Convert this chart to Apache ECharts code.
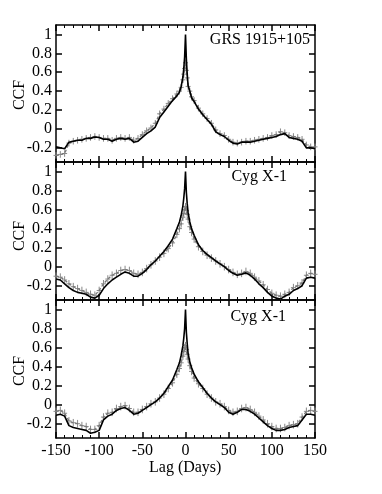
<!DOCTYPE html>
<html>
<head>
<meta charset="utf-8">
<script src="https://cdn.jsdelivr.net/npm/echarts@6/dist/echarts.min.js"></script>
<style>
  html, body { margin: 0; padding: 0; background: #fff; }
  #chart { width: 382px; height: 494px; }
</style>
</head>
<body>
<div id="chart"></div>
<script>
// lags (days)
var lags = [-150,-145,-140,-135,-130,-125,-120,-115,-110,-105,-100,-95,-90,-85,-80,-75,-70,-65,-60,-55,-50,-45,-40,-35,-30,-25,-20,-15,-10,-7,-5,-3,-2,-1,0,1,2,3,5,7,10,15,20,25,30,35,40,45,50,55,60,65,70,75,80,85,90,95,100,105,110,115,120,125,130,135,140,145,150];

// GRS 1915+105
var grsSolid = [-0.19,-0.20,-0.21,-0.14,-0.13,-0.12,-0.12,-0.10,-0.10,-0.085,-0.09,-0.11,-0.11,-0.13,-0.11,-0.10,-0.11,-0.10,-0.14,-0.13,-0.09,-0.05,-0.02,0.02,0.12,0.18,0.24,0.30,0.35,0.39,0.45,0.55,0.64,0.76,1.0,0.74,0.58,0.46,0.40,0.33,0.29,0.21,0.15,0.10,0.05,-0.03,-0.06,-0.08,-0.12,-0.15,-0.16,-0.14,-0.14,-0.14,-0.13,-0.12,-0.11,-0.10,-0.09,-0.08,-0.06,-0.05,-0.09,-0.10,-0.11,-0.13,-0.20,-0.20,-0.21];
var grsDash = [-0.28,-0.27,-0.26,-0.15,-0.13,-0.12,-0.11,-0.10,-0.09,-0.08,-0.09,-0.10,-0.10,-0.12,-0.10,-0.09,-0.10,-0.09,-0.12,-0.10,-0.06,-0.02,0.01,0.06,0.16,0.21,0.27,0.32,0.37,0.40,0.44,0.52,0.58,0.64,0.70,0.62,0.54,0.45,0.40,0.34,0.30,0.22,0.16,0.11,0.06,-0.01,-0.05,-0.07,-0.11,-0.14,-0.15,-0.14,-0.13,-0.13,-0.12,-0.11,-0.10,-0.09,-0.07,-0.06,-0.03,-0.04,-0.07,-0.08,-0.09,-0.11,-0.17,-0.19,-0.19];

// Cyg X-1 (middle)
var cygASolid = [-0.13,-0.14,-0.18,-0.22,-0.25,-0.27,-0.28,-0.29,-0.32,-0.33,-0.30,-0.23,-0.18,-0.14,-0.11,-0.08,-0.055,-0.07,-0.10,-0.10,-0.07,-0.03,0.02,0.06,0.11,0.16,0.22,0.29,0.40,0.47,0.54,0.64,0.72,0.82,1.0,0.78,0.66,0.57,0.47,0.40,0.33,0.23,0.17,0.13,0.095,0.06,0.03,0.00,-0.04,-0.07,-0.09,-0.08,-0.065,-0.09,-0.13,-0.18,-0.22,-0.27,-0.31,-0.33,-0.34,-0.31,-0.29,-0.25,-0.23,-0.20,-0.12,-0.11,-0.12];
var cygADash = [-0.10,-0.11,-0.14,-0.18,-0.21,-0.23,-0.25,-0.27,-0.29,-0.30,-0.25,-0.18,-0.13,-0.09,-0.07,-0.04,-0.03,-0.04,-0.07,-0.08,-0.06,-0.02,0.02,0.06,0.10,0.14,0.19,0.25,0.34,0.40,0.45,0.52,0.56,0.60,0.63,0.59,0.55,0.50,0.42,0.36,0.29,0.21,0.16,0.12,0.09,0.06,0.03,0.00,-0.03,-0.06,-0.08,-0.07,-0.05,-0.07,-0.11,-0.15,-0.19,-0.24,-0.28,-0.30,-0.31,-0.29,-0.27,-0.22,-0.20,-0.17,-0.09,-0.07,-0.08];

// Cyg X-1 (bottom)
var cygBSolid = [-0.11,-0.10,-0.12,-0.22,-0.24,-0.25,-0.26,-0.27,-0.30,-0.29,-0.27,-0.16,-0.12,-0.10,-0.06,-0.04,-0.03,-0.06,-0.10,-0.09,-0.06,-0.03,0.00,0.03,0.07,0.12,0.19,0.26,0.37,0.44,0.52,0.62,0.70,0.80,1.0,0.76,0.64,0.54,0.45,0.39,0.32,0.24,0.18,0.12,0.07,0.03,0.00,-0.03,-0.08,-0.10,-0.08,-0.05,-0.05,-0.07,-0.10,-0.14,-0.18,-0.22,-0.25,-0.27,-0.27,-0.26,-0.24,-0.23,-0.22,-0.16,-0.10,-0.10,-0.11];
var cygBDash = [-0.07,-0.06,-0.09,-0.17,-0.19,-0.20,-0.22,-0.23,-0.26,-0.26,-0.22,-0.13,-0.09,-0.08,-0.04,-0.02,-0.01,-0.04,-0.08,-0.08,-0.05,-0.02,0.01,0.03,0.07,0.11,0.17,0.23,0.32,0.38,0.44,0.51,0.56,0.60,0.62,0.58,0.53,0.48,0.41,0.35,0.28,0.22,0.17,0.11,0.07,0.03,0.01,-0.02,-0.06,-0.08,-0.07,-0.04,-0.03,-0.05,-0.08,-0.12,-0.16,-0.20,-0.23,-0.25,-0.25,-0.24,-0.22,-0.21,-0.20,-0.13,-0.07,-0.06,-0.07];

var panelNames = ['GRS 1915+105', 'Cyg X-1', 'Cyg X-1'];
var errs = [0.035, 0.04, 0.04];
var yTicks = [-0.2, 0, 0.2, 0.4, 0.6, 0.8, 1];

var solids = [grsSolid, cygASolid, cygBSolid];
var dashes = [grsDash, cygADash, cygBDash];

var font = 'Liberation Serif';
var tops = [25, 162, 300];
var heights = [137, 138, 138];
var ccfY = [95, 236, 371];

function pairs(vals) {
  return lags.map(function (l, i) { return [l, vals[i]]; });
}

var grid = [], xAxis = [], yAxis = [], series = [];
var graphic = [
  { type: 'text', right: 72, top: 32, style: { text: panelNames[0], font: '16px "Liberation Serif"', fill: '#000' } },
  { type: 'text', right: 95, top: 169, style: { text: panelNames[1], font: '16px "Liberation Serif"', fill: '#000' } },
  { type: 'text', right: 96, top: 309, style: { text: panelNames[2], font: '16px "Liberation Serif"', fill: '#000' } },
  { type: 'text', left: 149, top: 460, style: { text: 'Lag (Days)', font: '16px "Liberation Serif"', fill: '#000' } }
];

for (var p = 0; p < 3; p++) {
  grid.push({ left: 56, top: tops[p], width: 259, height: heights[p] });

  graphic.push({
    type: 'text', x: 20, y: ccfY[p], rotation: Math.PI / 2,
    style: { text: 'CCF', font: '16px "Liberation Serif"', fill: '#000', align: 'center', verticalAlign: 'middle' }
  });

  var xBase = {
    type: 'value', gridIndex: p, min: -150, max: 150, interval: 50,
    axisLine: { show: true, onZero: false, lineStyle: { color: '#000', width: 1.5 } },
    axisTick: { show: true, inside: true, length: 6, lineStyle: { color: '#000', width: 1.5 } },
    minorTick: { show: true, splitNumber: 5, length: 3, lineStyle: { color: '#000', width: 1 } },
    splitLine: { show: false },
    axisLabel: { show: false }
  };
  var xb = Object.assign({}, xBase, { position: 'bottom' });
  if (p === 2) {
    xb.axisLabel = { show: true, color: '#000', fontFamily: font, fontSize: 16, margin: 5 };
  }
  xAxis.push(xb);
  xAxis.push(Object.assign({}, xBase, { position: 'top' }));

  var yBase = {
    type: 'value', gridIndex: p, min: -0.35, max: 1.1,
    axisLine: { show: true, onZero: false, lineStyle: { color: '#000', width: 1.5 } },
    axisTick: { show: true, inside: true, length: 6, customValues: yTicks, lineStyle: { color: '#000', width: 1.5 } },
    splitLine: { show: false },
    axisLabel: { show: false }
  };
  yAxis.push(Object.assign({}, yBase, {
    position: 'left',
    axisLabel: { show: true, customValues: yTicks, color: '#000', fontFamily: font, fontSize: 16, margin: 4 }
  }));
  yAxis.push(Object.assign({}, yBase, { position: 'right' }));

  // error bars on the dashed curve
  (function (err) {
    series.push({
      type: 'custom', xAxisIndex: 2 * p, yAxisIndex: 2 * p, z: 2,
      data: pairs(dashes[p]),
      renderItem: function (params, api) {
        var x = api.value(0), y = api.value(1);
        var lo = api.coord([x, y - err]), hi = api.coord([x, y + err]);
        var c = api.coord([x, y]);
        return {
          type: 'group',
          children: [
            { type: 'line', shape: { x1: lo[0], y1: lo[1], x2: hi[0], y2: hi[1] }, style: { stroke: '#888', lineWidth: 1 } },
            { type: 'line', shape: { x1: c[0] - 2.5, y1: c[1], x2: c[0] + 2.5, y2: c[1] }, style: { stroke: '#888', lineWidth: 1 } }
          ]
        };
      }
    });
  })(errs[p]);

  series.push({
    type: 'line', xAxisIndex: 2 * p, yAxisIndex: 2 * p, z: 3,
    data: pairs(dashes[p]), symbol: 'none',
    lineStyle: { color: '#777', width: 1.3, type: [3, 2] }
  });
  series.push({
    type: 'line', xAxisIndex: 2 * p, yAxisIndex: 2 * p, z: 4,
    data: pairs(solids[p]), symbol: 'none',
    lineStyle: { color: '#000', width: 1.6 }
  });
}

var chart = echarts.init(document.getElementById('chart'));
chart.setOption({
  animation: false,
  backgroundColor: '#fff',
  grid: grid,
  xAxis: xAxis,
  yAxis: yAxis,
  series: series,
  graphic: graphic
});
</script>
</body>
</html>
